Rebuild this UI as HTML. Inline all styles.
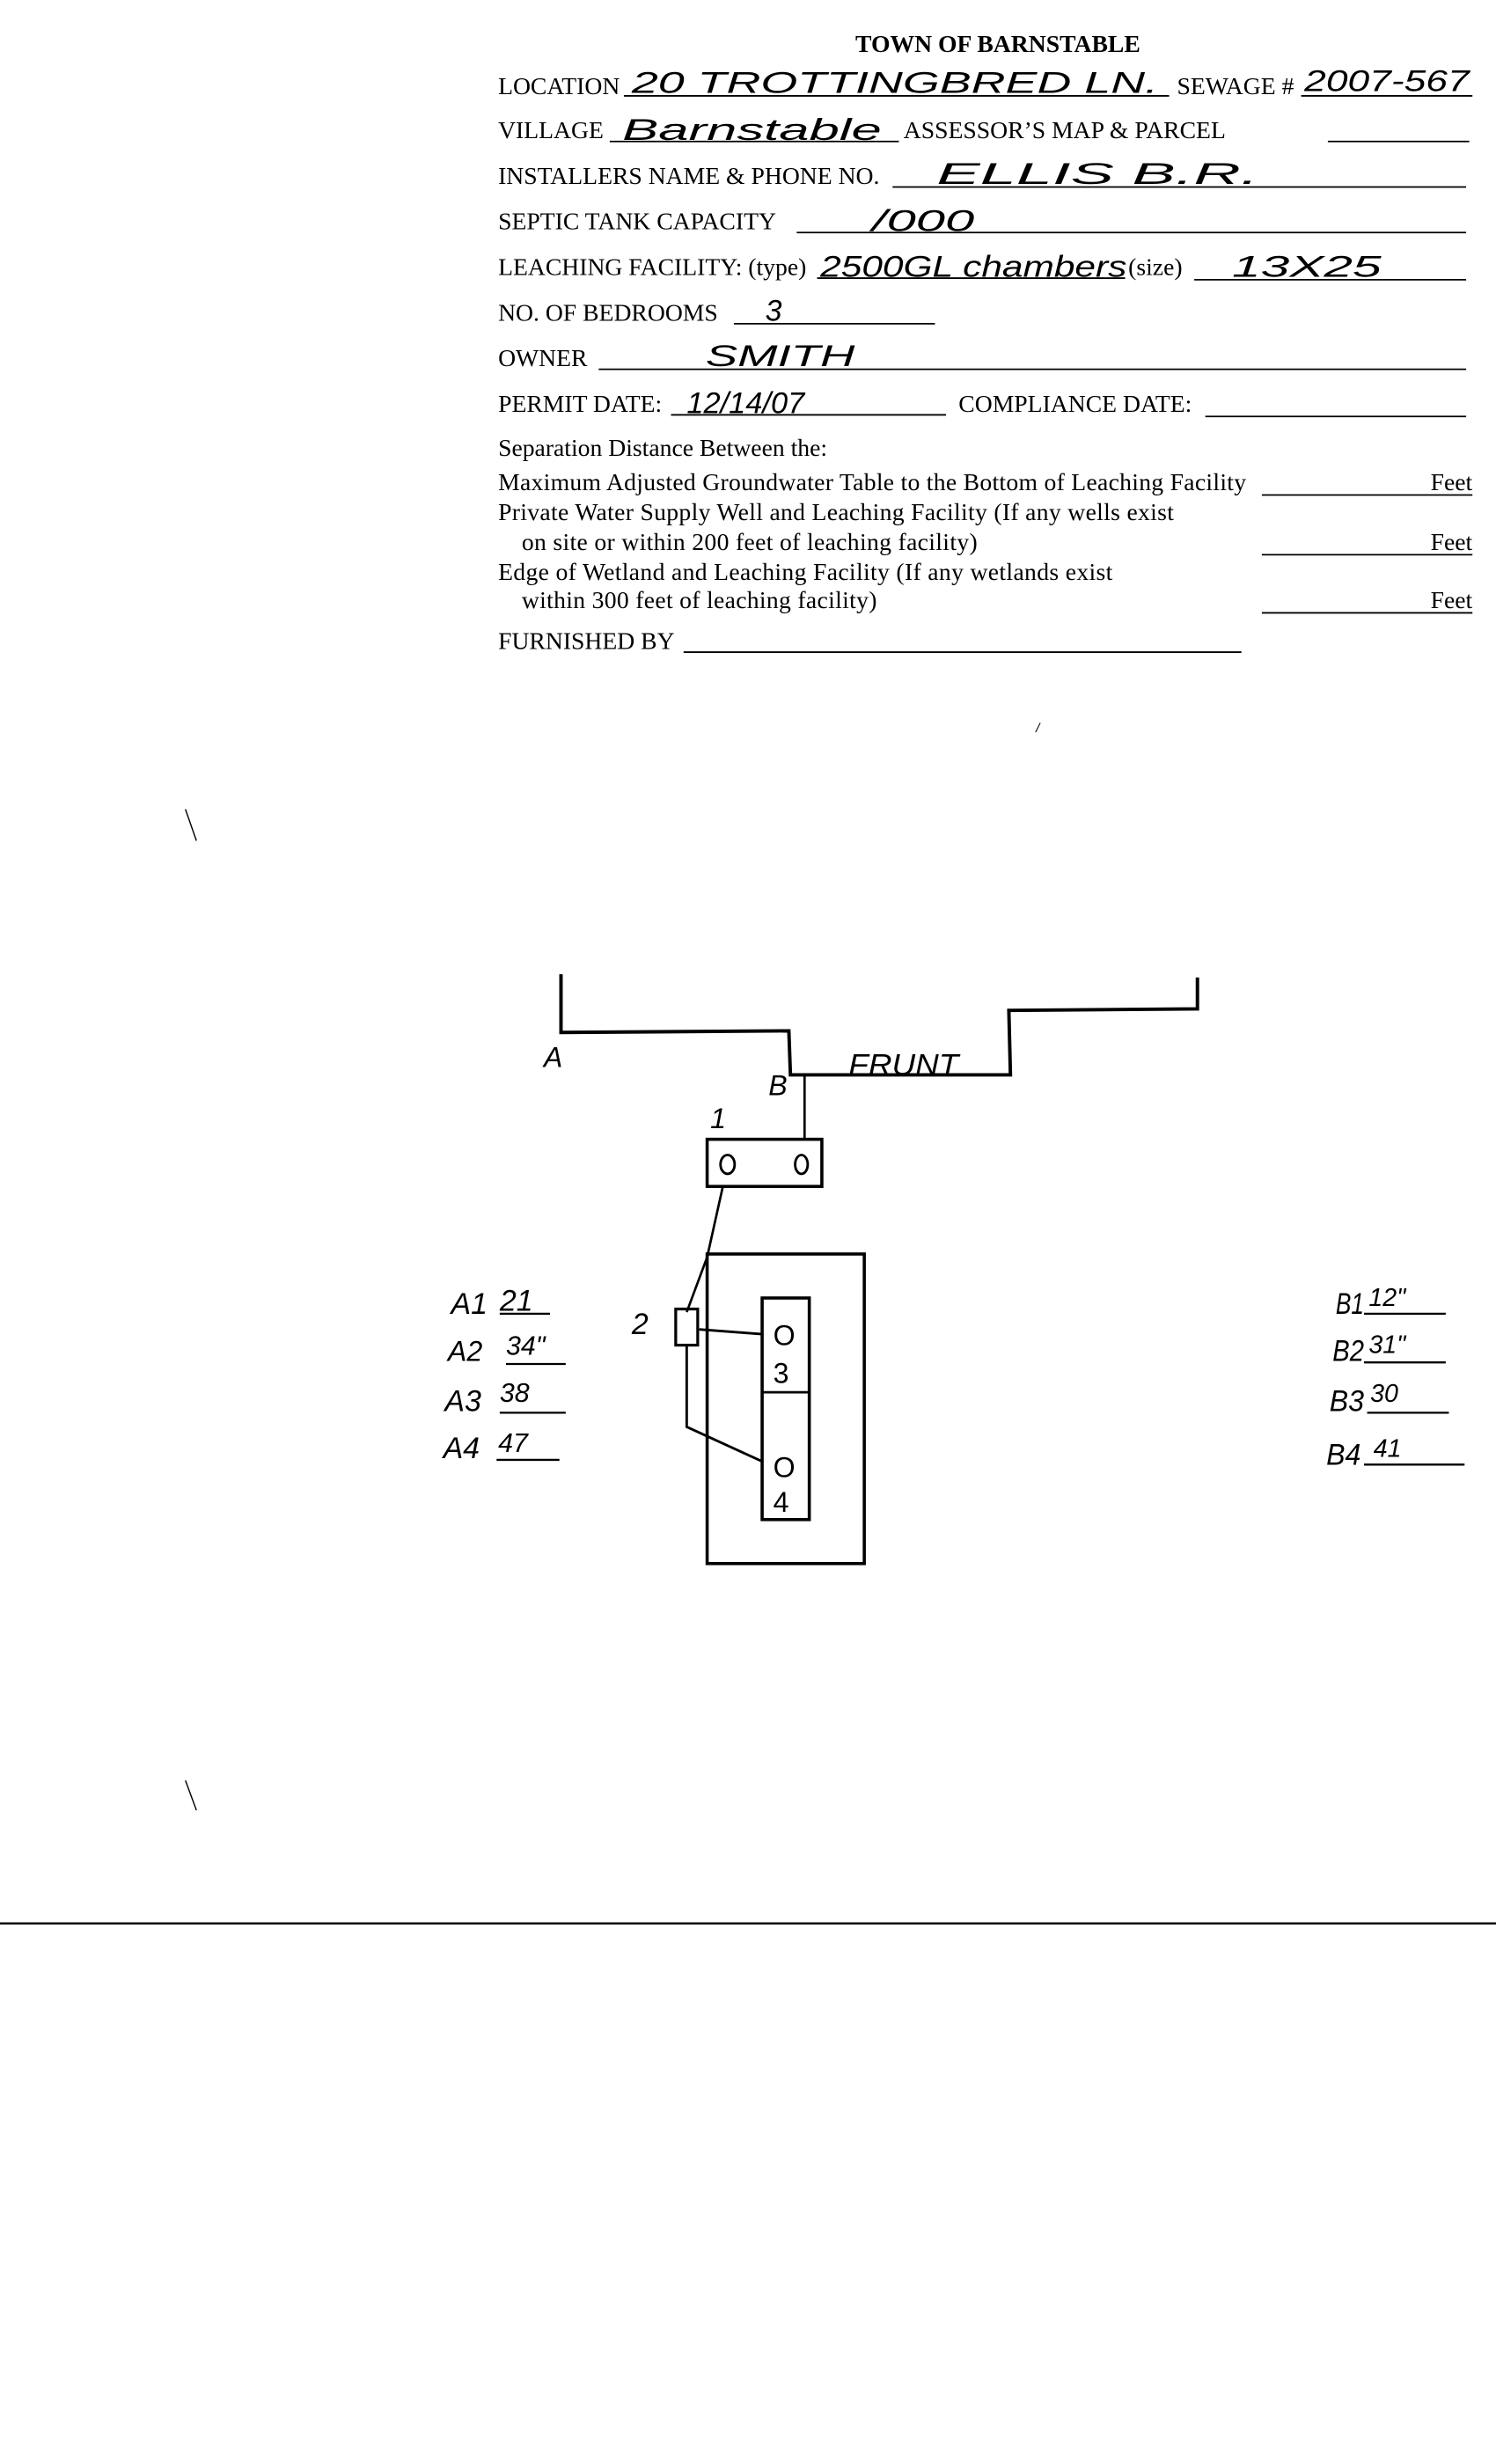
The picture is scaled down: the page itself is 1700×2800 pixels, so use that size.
<!DOCTYPE html>
<html><head><meta charset="utf-8"><style>
html,body{margin:0;padding:0;background:#fff;}
svg{display:block;}
.t{font-family:"Liberation Serif",serif;font-size:15.5px;fill:#000;}
.h{font-family:"Liberation Sans",sans-serif;font-style:italic;font-size:19px;fill:#000;}
.d{font-family:"Liberation Sans",sans-serif;font-size:18px;fill:#000;}
line,path,rect{stroke:#000;fill:none;}
</style></head><body>
<svg width="1700" height="2800" viewBox="0 0 952 1568" xmlns="http://www.w3.org/2000/svg">
<text class="t" x="635" y="33" text-anchor="middle" font-weight="bold" font-size="16">TOWN OF BARNSTABLE</text>

<text class="t" x="317" y="60">LOCATION</text>
<line x1="397" y1="61" x2="744" y2="61" stroke-width="1"/>
<text class="h" x="402" y="59" textLength="335" lengthAdjust="spacingAndGlyphs">20 TROTTINGBRED LN.</text>
<text class="t" x="749" y="60">SEWAGE #</text>
<line x1="828" y1="61" x2="937" y2="61" stroke-width="1"/>
<text class="h" x="830" y="58" font-size="18" textLength="105" lengthAdjust="spacingAndGlyphs">2007-567</text>

<text class="t" x="317" y="88">VILLAGE</text>
<line x1="388" y1="90" x2="572" y2="90" stroke-width="1"/>
<text class="h" x="396" y="89" textLength="165" lengthAdjust="spacingAndGlyphs">Barnstable</text>
<text class="t" x="575" y="88">ASSESSOR’S MAP &amp; PARCEL</text>
<line x1="845" y1="90" x2="935" y2="90" stroke-width="1"/>

<text class="t" x="317" y="117">INSTALLERS NAME &amp; PHONE NO.</text>
<line x1="568" y1="119" x2="933" y2="119" stroke-width="1"/>
<text class="h" x="596" y="117" textLength="205" lengthAdjust="spacingAndGlyphs">ELLIS  B.R.</text>

<text class="t" x="317" y="146">SEPTIC TANK CAPACITY</text>
<line x1="507" y1="148" x2="933" y2="148" stroke-width="1"/>
<text class="h" x="555" y="147" textLength="65" lengthAdjust="spacingAndGlyphs">/000</text>

<text class="t" x="317" y="175">LEACHING FACILITY: (type)</text>
<line x1="520" y1="177" x2="716" y2="177" stroke-width="1"/>
<text class="h" x="522" y="176" textLength="195" lengthAdjust="spacingAndGlyphs">2500GL chambers</text>
<text class="t" x="718" y="175">(size)</text>
<line x1="760" y1="178" x2="933" y2="178" stroke-width="1"/>
<text class="h" x="784" y="176" textLength="95" lengthAdjust="spacingAndGlyphs">13X25</text>

<text class="t" x="317" y="204">NO. OF BEDROOMS</text>
<line x1="467" y1="206" x2="595" y2="206" stroke-width="1"/>
<text class="h" x="487" y="204" font-style="normal">3</text>

<text class="t" x="317" y="233">OWNER</text>
<line x1="381" y1="235" x2="933" y2="235" stroke-width="1"/>
<text class="h" x="449" y="233" textLength="95" lengthAdjust="spacingAndGlyphs">SMITH</text>

<text class="t" x="317" y="262">PERMIT DATE:</text>
<line x1="427" y1="264" x2="602" y2="264" stroke-width="1"/>
<text class="h" x="437" y="263" font-size="14" textLength="75" lengthAdjust="spacingAndGlyphs">12/14/07</text>
<text class="t" x="610" y="262">COMPLIANCE DATE:</text>
<line x1="767" y1="265" x2="933" y2="265" stroke-width="1"/>

<text class="t" x="317" y="290" font-size="14.5">Separation Distance Between the:</text>
<text class="t" x="317" y="312" font-size="14.5" textLength="476">Maximum Adjusted Groundwater Table to the Bottom of Leaching Facility</text>
<line x1="803" y1="315" x2="937" y2="315" stroke-width="1"/>
<text class="t" x="937" y="312" font-size="14.5" text-anchor="end">Feet</text>
<text class="t" x="317" y="331" font-size="14.5" textLength="430">Private Water Supply Well and Leaching Facility (If any wells exist</text>
<text class="t" x="332" y="350" font-size="14.5" textLength="290">on site or within 200 feet of leaching facility)</text>
<line x1="803" y1="353" x2="937" y2="353" stroke-width="1"/>
<text class="t" x="937" y="350" font-size="14.5" text-anchor="end">Feet</text>
<text class="t" x="317" y="369" font-size="14.5" textLength="391">Edge of Wetland and Leaching Facility (If any wetlands exist</text>
<text class="t" x="332" y="387" font-size="14.5" textLength="226">within 300 feet of leaching facility)</text>
<line x1="803" y1="390" x2="937" y2="390" stroke-width="1"/>
<text class="t" x="937" y="387" font-size="14.5" text-anchor="end">Feet</text>
<text class="t" x="317" y="413">FURNISHED BY</text>
<line x1="435" y1="415" x2="790" y2="415" stroke-width="1"/>

<path d="M357,620 L357,657 L502,656 L503,684 L643,684 L642,643 L762,642 L762,622" stroke-width="2.2"/>
<text class="d" x="346" y="679" font-style="italic" font-size="16">A</text>
<text class="d" x="489" y="697" font-style="italic" font-size="15">B</text>
<text class="h" x="540" y="684" font-size="15" textLength="70" lengthAdjust="spacingAndGlyphs">FRUNT</text>

<line x1="512" y1="684" x2="512" y2="725" stroke-width="1.5"/>
<rect x="450" y="725" width="73" height="30" stroke-width="2"/>
<text class="d" x="452" y="718" font-size="15" font-style="italic">1</text>
<ellipse cx="463" cy="741" rx="4.5" ry="6" stroke="#000" fill="none" stroke-width="1.6"/>
<ellipse cx="510" cy="741" rx="4" ry="6" stroke="#000" fill="none" stroke-width="1.6"/>
<path d="M460,755 L450,800 L437,835" stroke-width="1.5"/>

<rect x="450" y="798" width="100" height="197" stroke-width="2"/>
<rect x="485" y="826" width="30" height="141" stroke-width="2"/>
<line x1="485" y1="886" x2="515" y2="886" stroke-width="1.5"/>
<rect x="430" y="833" width="14" height="23" stroke-width="1.8"/>
<text class="h" x="402" y="849" font-size="17">2</text>
<line x1="445" y1="846" x2="485" y2="849" stroke-width="1.6"/>
<path d="M437,856 L437,908 L485,930" stroke-width="1.6"/>
<text class="d" x="492" y="856" font-size="19">O</text>
<text class="d" x="492" y="880" font-size="19">3</text>
<text class="d" x="492" y="940" font-size="19">O</text>
<text class="d" x="492" y="962" font-size="19">4</text>

<g class="h" font-size="20">
<text x="287" y="836">A1</text><text x="318" y="834">21</text>
<text x="285" y="866" font-size="18">A2</text><text x="322" y="862" font-size="17">34"</text>
<text x="283" y="898">A3</text><text x="318" y="892" font-size="17">38</text>
<text x="282" y="928">A4</text><text x="317" y="924" font-size="17">47</text>
</g>
<line x1="318" y1="836" x2="350" y2="836" stroke-width="1.3"/>
<line x1="322" y1="868" x2="360" y2="868" stroke-width="1.3"/>
<line x1="318" y1="899" x2="360" y2="899" stroke-width="1.3"/>
<line x1="316" y1="929" x2="356" y2="929" stroke-width="1.3"/>

<g class="h" font-size="19">
<text x="850" y="836" textLength="18" lengthAdjust="spacingAndGlyphs">B1</text><text x="871" y="831" font-size="16">12"</text>
<text x="848" y="866" textLength="20" lengthAdjust="spacingAndGlyphs">B2</text><text x="871" y="861" font-size="16">31"</text>
<text x="846" y="898" textLength="22" lengthAdjust="spacingAndGlyphs">B3</text><text x="872" y="892" font-size="16">30</text>
<text x="844" y="932" textLength="22" lengthAdjust="spacingAndGlyphs">B4</text><text x="874" y="927" font-size="16">41</text>
</g>
<line x1="868" y1="836" x2="920" y2="836" stroke-width="1.3"/>
<line x1="868" y1="867" x2="920" y2="867" stroke-width="1.3"/>
<line x1="870" y1="899" x2="922" y2="899" stroke-width="1.3"/>
<line x1="868" y1="932" x2="932" y2="932" stroke-width="1.3"/>

<line x1="118" y1="515" x2="125" y2="535" stroke-width="0.8"/>
<line x1="118" y1="1133" x2="125" y2="1152" stroke-width="0.8"/>
<line x1="662" y1="460" x2="659" y2="466" stroke-width="0.6"/>

<line x1="0" y1="1224" x2="952" y2="1224" stroke-width="1.3"/>
</svg>
</body></html>
